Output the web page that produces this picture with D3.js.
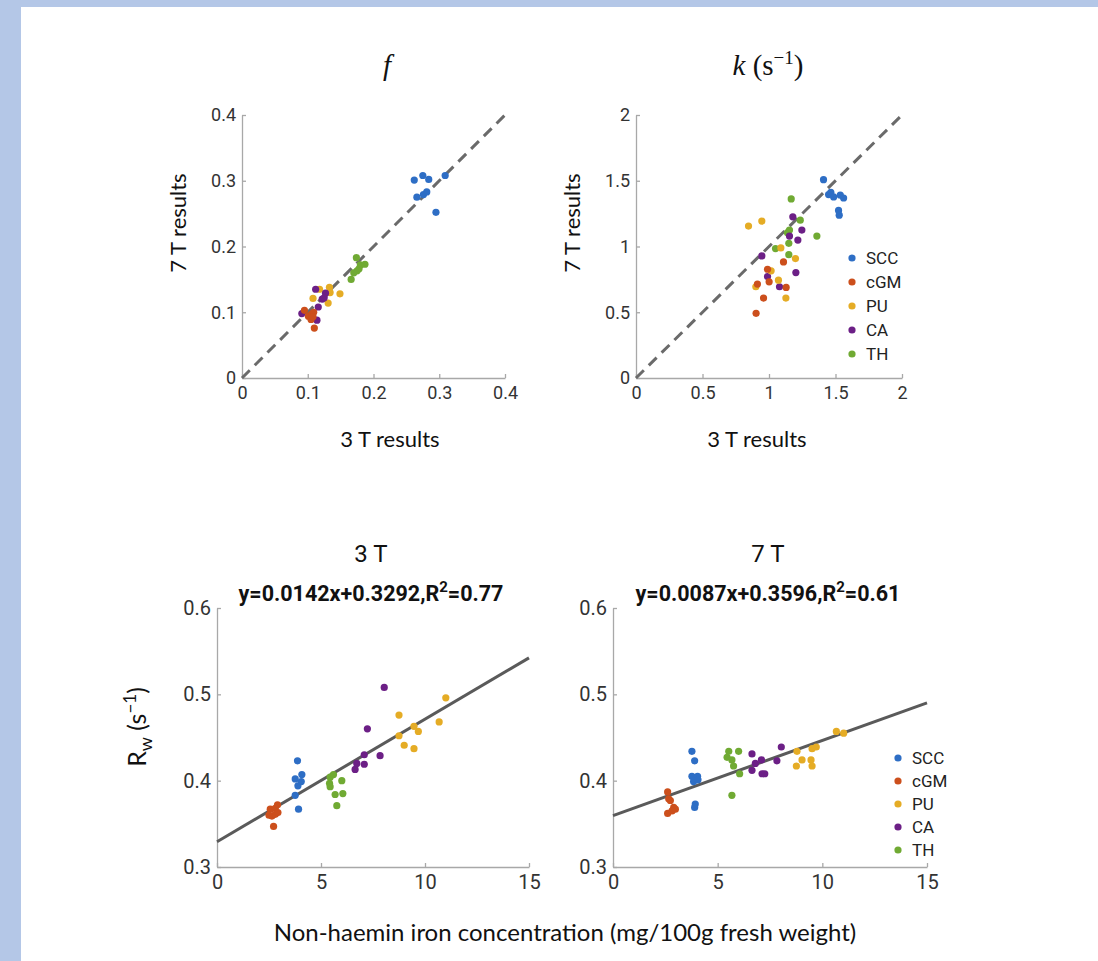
<!DOCTYPE html>
<html>
<head>
<meta charset="utf-8">
<title>3 T vs 7 T</title>
<script src="https://d3js.org/d3.v7.min.js"></script>
<style>
  body { margin: 0; background: #b4c7e7; }
  svg { display: block; }
  .tick text { fill: #333; font-family: Roboto, sans-serif; }
  .domain, .tick line { stroke: #a8a8a8; stroke-width: 1.3; }
</style>
</head>
<body>
<svg id="chart" width="1098" height="961"></svg>
<script>
// groups + matlab-ish colours
var groups = ["SCC", "cGM", "PU", "CA", "TH"];
var colors = ["#2e6ec5", "#cc4f1c", "#e5ac25", "#6c1f86", "#70aa33"];

// f : [group, 3T, 7T]
var fPoints = [
  ["SCC",0.262,0.301],["SCC",0.275,0.308],["SCC",0.284,0.302],["SCC",0.266,0.275],
  ["SCC",0.276,0.279],["SCC",0.281,0.283],["SCC",0.309,0.308],["SCC",0.295,0.252],
  ["TH",0.174,0.183],["TH",0.166,0.150],["TH",0.170,0.160],["TH",0.178,0.166],
  ["TH",0.180,0.172],["TH",0.187,0.173],["TH",0.175,0.163],
  ["PU",0.118,0.135],["PU",0.133,0.138],["PU",0.134,0.130],["PU",0.149,0.128],
  ["PU",0.108,0.121],["PU",0.131,0.114],
  ["CA",0.112,0.135],["CA",0.127,0.129],["CA",0.122,0.120],["CA",0.125,0.122],
  ["CA",0.116,0.108],["CA",0.091,0.098],["CA",0.114,0.088],
  ["cGM",0.095,0.103],["cGM",0.101,0.094],["cGM",0.106,0.097],["cGM",0.109,0.100],
  ["cGM",0.105,0.089],["cGM",0.110,0.076],["cGM",0.108,0.093]
];

// k (1/s) : [group, 3T, 7T]
var kPoints = [
  ["SCC",1.410,1.508],["SCC",1.448,1.395],["SCC",1.465,1.412],["SCC",1.486,1.377],
  ["SCC",1.536,1.390],["SCC",1.561,1.369],["SCC",1.523,1.274],["SCC",1.528,1.238],
  ["TH",1.167,1.362],["TH",1.235,1.200],["TH",1.154,1.125],["TH",1.139,1.105],
  ["TH",1.360,1.079],["TH",1.149,1.024],["TH",1.049,0.984],["TH",1.149,0.938],
  ["CA",1.179,1.226],["CA",1.247,1.125],["CA",1.154,1.079],["CA",1.217,1.049],
  ["CA",0.946,0.928],["CA",0.989,0.772],["CA",1.079,0.694],["CA",1.202,0.802],
  ["PU",0.846,1.155],["PU",0.946,1.193],["PU",1.089,0.989],["PU",1.199,0.908],
  ["PU",1.016,0.815],["PU",1.071,0.744],["PU",0.901,0.694],["PU",1.127,0.608],
  ["cGM",0.989,0.827],["cGM",1.109,0.883],["cGM",1.001,0.731],["cGM",0.913,0.714],
  ["cGM",0.959,0.608],["cGM",0.903,0.492],["cGM",1.129,0.689]
];

// R_w vs non-haemin iron, 3 T : [group, iron, Rw]
var rw3Points = [
  ["cGM",2.56,0.367],["cGM",2.80,0.368],["cGM",2.91,0.372],["cGM",2.64,0.359],
  ["cGM",2.80,0.361],["cGM",2.93,0.363],["cGM",2.72,0.347],["cGM",2.50,0.360],
  ["SCC",3.87,0.423],["SCC",3.76,0.402],["SCC",4.08,0.407],["SCC",3.89,0.394],
  ["SCC",4.05,0.399],["SCC",3.76,0.383],["SCC",3.92,0.367],
  ["TH",5.44,0.404],["TH",5.60,0.407],["TH",5.41,0.397],["TH",5.44,0.393],
  ["TH",6.00,0.400],["TH",6.05,0.385],["TH",5.68,0.384],["TH",5.76,0.371],
  ["CA",8.04,0.508],["CA",7.23,0.460],["CA",7.08,0.430],["CA",7.84,0.429],
  ["CA",7.08,0.419],["CA",6.72,0.420],["CA",6.64,0.413],
  ["PU",11.00,0.496],["PU",8.75,0.476],["PU",10.68,0.468],["PU",9.47,0.463],
  ["PU",9.68,0.457],["PU",8.75,0.452],["PU",9.00,0.441],["PU",9.47,0.437]
];

// R_w vs non-haemin iron, 7 T
var rw7Points = [
  ["cGM",2.61,0.387],["cGM",2.66,0.379],["cGM",2.74,0.377],["cGM",2.90,0.369],
  ["cGM",2.98,0.367],["cGM",2.61,0.362],["cGM",2.82,0.365],
  ["SCC",3.77,0.434],["SCC",3.90,0.423],["SCC",3.77,0.405],["SCC",4.04,0.405],
  ["SCC",3.85,0.399],["SCC",4.06,0.401],["SCC",3.93,0.373],["SCC",3.90,0.369],
  ["TH",5.53,0.434],["TH",6.00,0.434],["TH",5.45,0.427],["TH",5.68,0.424],
  ["TH",5.76,0.417],["TH",6.05,0.408],["TH",5.68,0.383],
  ["CA",8.04,0.439],["CA",6.64,0.431],["CA",7.09,0.424],["CA",6.80,0.420],
  ["CA",7.83,0.423],["CA",6.64,0.412],["CA",7.12,0.408],["CA",7.25,0.408],
  ["PU",10.67,0.457],["PU",11.02,0.455],["PU",8.79,0.434],["PU",9.46,0.424],
  ["PU",9.71,0.439],["PU",9.51,0.437],["PU",9.03,0.424],["PU",8.76,0.417],["PU",9.51,0.417]
];

// linear fits [slope, intercept, R2]
var fit3 = [0.0142, 0.3292, 0.77];
var fit7 = [0.0087, 0.3596, 0.61];

var fTicks = [0, 0.1, 0.2, 0.3, 0.4];
var kTicks = [0, 0.5, 1, 1.5, 2];
var ironTicks = [0, 5, 10, 15];
var rwTicks = [0.3, 0.4, 0.5, 0.6];

var svg = d3.select("#chart");
var color = d3.scaleOrdinal().domain(groups).range(colors);

// white page (blue frame left/top)
svg.append("rect").attr("x", 21).attr("y", 7).attr("width", 1098 - 21).attr("height", 961 - 7).attr("fill", "#fff");

function panel(opt) {
  var x = d3.scaleLinear().domain(opt.xd).range([opt.x0, opt.x1]);
  var y = d3.scaleLinear().domain(opt.yd).range([opt.y0, opt.y1]);
  var g = svg.append("g");

  g.append("g")
    .attr("transform", "translate(0," + opt.y0 + ")")
    .call(d3.axisBottom(x).tickValues(opt.xt).tickFormat(d3.format("")).tickSizeInner(-4).tickSizeOuter(0).tickPadding(opt.pad + 2))
    .call(function (a) { a.selectAll("text").style("font-size", opt.fs + "px"); });
  g.append("g")
    .attr("transform", "translate(" + opt.x0 + ",0)")
    .call(d3.axisLeft(y).tickValues(opt.yt).tickFormat(d3.format("")).tickSizeInner(-4).tickSizeOuter(0).tickPadding(opt.pad))
    .call(function (a) { a.selectAll("text").style("font-size", opt.fs + "px"); });

  if (opt.diag) {
    g.append("line")
      .attr("x1", x(opt.xd[0])).attr("y1", y(opt.yd[0]))
      .attr("x2", x(opt.xd[1])).attr("y2", y(opt.yd[1]))
      .attr("stroke", "#6a6a6a").attr("stroke-width", 3)
      .attr("stroke-dasharray", "11,7");
  }
  if (opt.fit) {
    var f = opt.fit;
    g.append("line")
      .attr("x1", x(opt.xd[0])).attr("y1", y(f[0] * opt.xd[0] + f[1]))
      .attr("x2", x(opt.xd[1])).attr("y2", y(f[0] * opt.xd[1] + f[1]))
      .attr("stroke", "#5a5a5a").attr("stroke-width", 3);
  }

  g.selectAll("circle.pt")
    .data(opt.data)
    .join("circle")
    .attr("class", "pt")
    .attr("cx", function (d) { return x(d[1]); })
    .attr("cy", function (d) { return y(d[2]); })
    .attr("r", 3.6)
    .attr("fill", function (d) { return color(d[0]); });

  if (opt.legend) {
    var lg = g.append("g").attr("transform", "translate(" + opt.legend[0] + "," + opt.legend[1] + ")");
    groups.forEach(function (name, i) {
      lg.append("circle").attr("cx", 0).attr("cy", i * opt.legend[2]).attr("r", 3.6).attr("fill", color(name));
      lg.append("text").attr("x", 14).attr("y", i * opt.legend[2]).attr("dy", "0.35em")
        .style("font-family", "Roboto, sans-serif").style("font-size", "17px").attr("fill", "#222")
        .text(name);
    });
  }
  return g;
}

panel({ xd: [0, 0.4], yd: [0, 0.4], x0: 242, x1: 505, y0: 378, y1: 115, xt: fTicks, yt: fTicks, fs: 18, pad: 6, diag: true, data: fPoints });
panel({ xd: [0, 2], yd: [0, 2], x0: 636, x1: 902, y0: 378, y1: 115, xt: kTicks, yt: kTicks, fs: 18, pad: 6, diag: true, data: kPoints, legend: [852, 258, 24] });
panel({ xd: [0, 15], yd: [0.3, 0.6], x0: 217, x1: 529, y0: 867, y1: 608, xt: ironTicks, yt: rwTicks, fs: 20, pad: 6, fit: fit3, data: rw3Points });
panel({ xd: [0, 15], yd: [0.3, 0.6], x0: 613, x1: 927, y0: 867, y1: 608, xt: ironTicks, yt: rwTicks, fs: 20, pad: 6, fit: fit7, data: rw7Points, legend: [898, 758, 23] });

// text
var sans = "Lato, 'Open Sans', sans-serif";
function label(x, y, txt, rot, fs) {
  var t = svg.append("text").attr("text-anchor", "middle")
    .style("font-family", sans).style("font-size", fs + "px").attr("fill", "#111").text(txt);
  if (rot) t.attr("transform", "translate(" + x + "," + y + ") rotate(-90)");
  else t.attr("x", x).attr("y", y);
  return t;
}
label(186, 223, "7 T results", true, 22);
label(580, 223, "7 T results", true, 22);
label(390, 447, "3 T results", false, 22);
label(757, 447, "3 T results", false, 22);
label(565, 941, "Non-haemin iron concentration (mg/100g fresh weight)", false, 24);

// top titles
svg.append("text").attr("x", 387).attr("y", 75).attr("text-anchor", "middle")
  .style("font-family", "'Liberation Serif', serif").style("font-style", "italic").style("font-size", "29px")
  .attr("fill", "#111").text("f");
var kt = svg.append("text").attr("x", 768).attr("y", 75).attr("text-anchor", "middle")
  .style("font-family", "'Liberation Serif', serif").style("font-size", "29px").attr("fill", "#111");
kt.append("tspan").style("font-style", "italic").text("k");
kt.append("tspan").text(" (s");
kt.append("tspan").attr("dy", -11).style("font-size", "19px").text("\u22121");
kt.append("tspan").attr("dy", 11).text(")");

// R_w label
var rw = svg.append("text").attr("transform", "translate(146,727) rotate(-90)").attr("text-anchor", "middle")
  .style("font-family", sans).style("font-size", "25px").attr("fill", "#111");
rw.append("tspan").text("R");
rw.append("tspan").attr("dy", 6).style("font-size", "18px").text("w");
rw.append("tspan").attr("dy", -6).text(" (s");
rw.append("tspan").attr("dy", -10).style("font-size", "17px").text("\u22121");
rw.append("tspan").attr("dy", 10).text(")");

// bottom titles + fit equations
function fitTitle(cx, name, f) {
  svg.append("text").attr("x", cx).attr("y", 562).attr("text-anchor", "middle")
    .style("font-family", "Roboto, sans-serif").style("font-size", "24px").attr("fill", "#111").text(name);
  var t = svg.append("text").attr("x", cx).attr("y", 601).attr("text-anchor", "middle")
    .style("font-family", "Roboto, sans-serif").style("font-weight", "bold").style("font-size", "21.5px").attr("fill", "#111");
  t.append("tspan").text("y=" + f[0].toFixed(4) + "x+" + f[1].toFixed(4) + ",R");
  t.append("tspan").attr("dy", -9).style("font-size", "15px").text("2");
  t.append("tspan").attr("dy", 9).text("=" + f[2].toFixed(2));
}
fitTitle(371, "3 T", fit3);
fitTitle(768, "7 T", fit7);
</script>
</body>
</html>
